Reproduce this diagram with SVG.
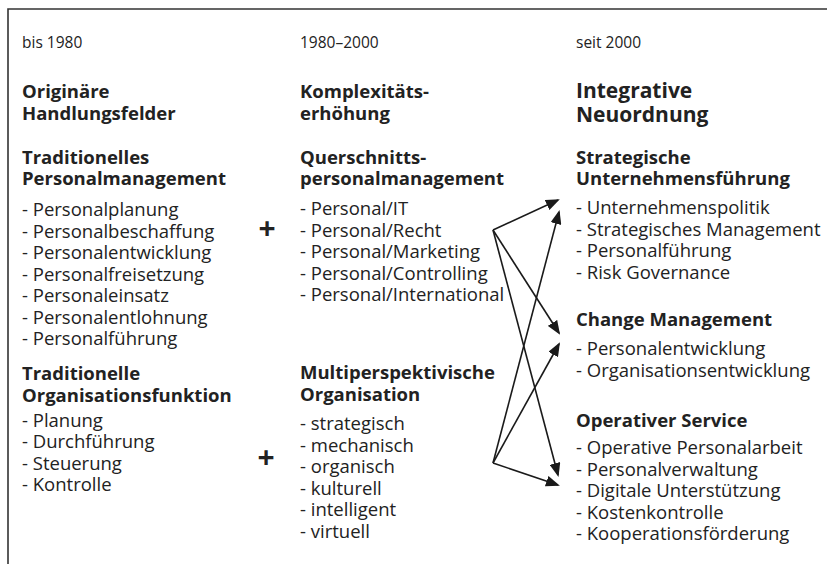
<svg xmlns="http://www.w3.org/2000/svg" width="827" height="564" viewBox="0 0 827 564">
<defs>
<style>
text{font-family:"Open Sans","Noto Sans","DejaVu Sans",sans-serif;fill:#222;}
.era{font-size:15.5px;}
.h1{font-size:18.5px;font-weight:bold;}
.h1b{font-size:21px;font-weight:bold;}
.h2{font-size:18.5px;font-weight:bold;}
.li{font-size:18.5px;}
.plus{font-size:30px;font-weight:bold;}
.con{stroke:#1a1a1a;stroke-width:1.6;fill:none;marker-end:url(#ah);}
</style>
<marker id="ah" viewBox="0 0 14 11" refX="12" refY="5.5" markerWidth="14" markerHeight="11" markerUnits="userSpaceOnUse" orient="auto">
<path d="M0,0 L14,5.5 L0,11 z" fill="#1a1a1a"/>
</marker>
</defs>
<rect width="827" height="564" fill="#fff"/>
<path d="M8,570 V9 H830" stroke="#333" stroke-width="1.6" fill="none"/>

<g id="col1">
<text class="era" x="22" y="48">bis 1980</text>
<text class="h1" x="22" y="98">Originäre</text>
<text class="h1" x="22" y="120">Handlungsfelder</text>
</g>
<g id="traditionelles-personalmanagement">
<text class="h2" x="22" y="164">Traditionelles</text>
<text class="h2" x="22" y="185">Personalmanagement</text>
<text class="li" x="22" y="216">- Personalplanung</text>
<text class="li" x="22" y="238">- Personalbeschaffung</text>
<text class="li" x="22" y="259">- Personalentwicklung</text>
<text class="li" x="22" y="281">- Personalfreisetzung</text>
<text class="li" x="22" y="302">- Personaleinsatz</text>
<text class="li" x="22" y="324">- Personalentlohnung</text>
<text class="li" x="22" y="345">- Personalführung</text>
</g>
<g id="traditionelle-organisationsfunktion">
<text class="h2" x="22" y="380">Traditionelle</text>
<text class="h2" x="22" y="402">Organisationsfunktion</text>
<text class="li" x="22" y="427">- Planung</text>
<text class="li" x="22" y="448">- Durchführung</text>
<text class="li" x="22" y="470">- Steuerung</text>
<text class="li" x="22" y="491">- Kontrolle</text>
</g>
<g id="plus1"><text class="plus" x="267" y="239" text-anchor="middle">+</text></g>
<g id="plus2"><text class="plus" x="266" y="468" text-anchor="middle">+</text></g>

<g id="col2">
<text class="era" x="300" y="48">1980–2000</text>
<text class="h1" x="300" y="98">Komplexitäts-</text>
<text class="h1" x="300" y="120">erhöhung</text>
</g>
<g id="querschnittspersonalmanagement">
<text class="h2" x="300" y="164">Querschnitts-</text>
<text class="h2" x="300" y="185">personalmanagement</text>
<text class="li" x="300" y="215">- Personal/IT</text>
<text class="li" x="300" y="237">- Personal/Recht</text>
<text class="li" x="300" y="258">- Personal/Marketing</text>
<text class="li" x="300" y="280">- Personal/Controlling</text>
<text class="li" x="300" y="301">- Personal/International</text>
</g>
<g id="multiperspektivische-organisation">
<text class="h2" x="300" y="379">Multiperspektivische</text>
<text class="h2" x="300" y="401">Organisation</text>
<text class="li" x="300" y="430">- strategisch</text>
<text class="li" x="300" y="452">- mechanisch</text>
<text class="li" x="300" y="473">- organisch</text>
<text class="li" x="300" y="495">- kulturell</text>
<text class="li" x="300" y="516">- intelligent</text>
<text class="li" x="300" y="538">- virtuell</text>
</g>

<g id="col3">
<text class="era" x="576" y="48">seit 2000</text>
<text class="h1b" x="576" y="98">Integrative</text>
<text class="h1b" x="576" y="122">Neuordnung</text>
</g>
<g id="strategische-unternehmensfuehrung">
<text class="h2" x="576" y="164">Strategische</text>
<text class="h2" x="576" y="185">Unternehmensführung</text>
<text class="li" x="576" y="214">- Unternehmenspolitik</text>
<text class="li" x="576" y="236">- Strategisches Management</text>
<text class="li" x="576" y="257">- Personalführung</text>
<text class="li" x="576" y="279">- Risk Governance</text>
</g>
<g id="change-management">
<text class="h2" x="576" y="326">Change Management</text>
<text class="li" x="576" y="355">- Personalentwicklung</text>
<text class="li" x="576" y="377">- Organisationsentwicklung</text>
</g>
<g id="operativer-service">
<text class="h2" x="576" y="427">Operativer Service</text>
<text class="li" x="576" y="454">- Operative Personalarbeit</text>
<text class="li" x="576" y="476">- Personalverwaltung</text>
<text class="li" x="576" y="497">- Digitale Unterstützung</text>
<text class="li" x="576" y="519">- Kostenkontrolle</text>
<text class="li" x="576" y="540">- Kooperationsförderung</text>
</g>

<g id="connectors">
<line class="con" x1="493" y1="230" x2="558" y2="200"/>
<line class="con" x1="493" y1="230" x2="559" y2="333"/>
<line class="con" x1="493" y1="230" x2="558" y2="475"/>
<line class="con" x1="493" y1="463" x2="559" y2="212"/>
<line class="con" x1="493" y1="463" x2="559" y2="344"/>
<line class="con" x1="493" y1="463" x2="558" y2="485"/>
</g>
</svg>
